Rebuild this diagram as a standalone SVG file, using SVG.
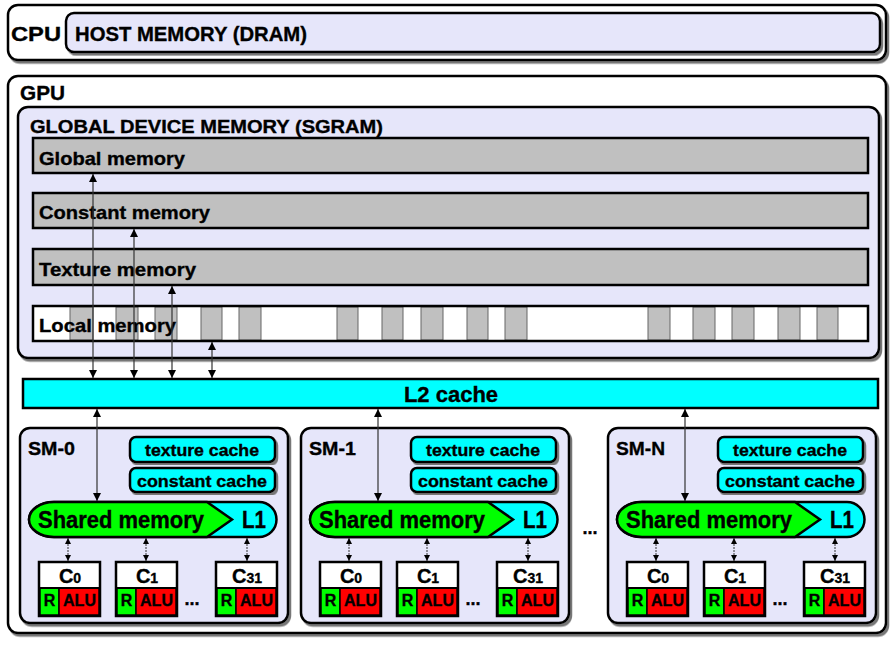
<svg xmlns="http://www.w3.org/2000/svg" width="891" height="645" viewBox="0 0 891 645">
<defs>
<filter id="ds" x="-5%" y="-5%" width="110%" height="115%"><feDropShadow dx="2" dy="2.5" stdDeviation="0.6" flood-color="#777" flood-opacity="1"/></filter>
<marker id="ah" viewBox="0 0 10 10" refX="10" refY="5" markerWidth="8" markerHeight="8" markerUnits="userSpaceOnUse" orient="auto-start-reverse"><path d="M0,0 L10,5 L0,10 Z" fill="#000"/></marker>
<marker id="as" viewBox="0 0 10 10" refX="10" refY="5" markerWidth="6" markerHeight="6" markerUnits="userSpaceOnUse" orient="auto-start-reverse"><path d="M0,0 L10,5 L0,10 Z" fill="#000"/></marker>
<style>
text{font-family:"Liberation Sans",Arial,sans-serif;font-weight:bold;fill:#000;stroke:#000;stroke-width:0.35}
.outer{fill:#fff;stroke:#000;stroke-width:2.5;filter:url(#ds)}
.lav{fill:#e6e6fa;stroke:#000;stroke-width:2.5;filter:url(#ds)}
.bar{fill:#c0c0c0;stroke:#000;stroke-width:2.5}
.cell{fill:#c0c0c0;stroke:#666;stroke-width:1}
.cyan{fill:#00ffff;stroke:#000;stroke-width:2.5}
.cache{fill:#00ffff;stroke:#000;stroke-width:2.5;filter:url(#ds)}
.green{fill:#00ff00;stroke:#000;stroke-width:2.5}
.reg{fill:#00ff00;stroke:#000;stroke-width:1.5}
.alu{fill:#ff0000;stroke:#000;stroke-width:1.5}
.core{fill:#fff;stroke:#000;stroke-width:2.5}
.div{stroke:#000;stroke-width:2}
.conn{stroke:#333;stroke-width:1.2;fill:none;marker-start:url(#ah);marker-end:url(#ah)}
.cconn{stroke:#333;stroke-width:1;stroke-dasharray:2 1;fill:none;marker-start:url(#as);marker-end:url(#as)}
.t19{font-size:19px}
.t20{font-size:20px}
.cache-t{font-size:17px}
.sh-t{font-size:23px}
.c-t{font-size:20px}
.ra{font-size:16px}
</style>
</defs>

<g id="cpu">
<rect class="outer" x="8" y="5" width="878" height="55" rx="10"/>
<text class="t20" x="11" y="41" textLength="50" lengthAdjust="spacingAndGlyphs">CPU</text>
<g id="host-memory">
<rect class="lav" x="66" y="13" width="814" height="39" rx="8"/>
<text class="t20" x="75" y="41" textLength="232" lengthAdjust="spacingAndGlyphs">HOST MEMORY (DRAM)</text>
</g>
</g>

<g id="gpu">
<rect class="outer" x="8" y="76" width="878" height="557" rx="10"/>
<text class="t20" x="20" y="100" textLength="45" lengthAdjust="spacingAndGlyphs">GPU</text>
</g>

<g id="global-device-memory">
<rect class="lav" x="18" y="107" width="861" height="251" rx="10"/>
<text class="t19" x="30" y="133" textLength="353" lengthAdjust="spacingAndGlyphs">GLOBAL DEVICE MEMORY (SGRAM)</text>
</g>

<g id="global-memory">
<rect class="bar" x="33" y="138" width="835" height="35"/>
<text class="t19" x="39" y="165" textLength="146" lengthAdjust="spacingAndGlyphs">Global memory</text>
</g>
<g id="constant-memory">
<rect class="bar" x="33" y="193" width="835" height="35"/>
<text class="t19" x="39" y="219" textLength="171" lengthAdjust="spacingAndGlyphs">Constant memory</text>
</g>
<g id="texture-memory">
<rect class="bar" x="33" y="249" width="835" height="36"/>
<text class="t19" x="39" y="276" textLength="157" lengthAdjust="spacingAndGlyphs">Texture memory</text>
</g>
<g id="local-memory">
<rect x="33" y="306" width="835" height="35" fill="#fff"/>
<rect class="cell" x="70" y="307" width="23" height="33"/>
<rect class="cell" x="116" y="307" width="22" height="33"/>
<rect class="cell" x="155" y="307" width="22" height="33"/>
<rect class="cell" x="201" y="307" width="21" height="33"/>
<rect class="cell" x="239" y="307" width="22" height="33"/>
<rect class="cell" x="337" y="307" width="21" height="33"/>
<rect class="cell" x="382" y="307" width="21" height="33"/>
<rect class="cell" x="421" y="307" width="22" height="33"/>
<rect class="cell" x="467" y="307" width="21" height="33"/>
<rect class="cell" x="505" y="307" width="22" height="33"/>
<rect class="cell" x="648" y="307" width="22" height="33"/>
<rect class="cell" x="693" y="307" width="22" height="33"/>
<rect class="cell" x="732" y="307" width="22" height="33"/>
<rect class="cell" x="778" y="307" width="22" height="33"/>
<rect class="cell" x="817" y="307" width="21" height="33"/>
<rect x="33" y="306" width="835" height="35" fill="none" stroke="#000" stroke-width="2.5"/>
<text class="t19" x="39" y="332" textLength="137" lengthAdjust="spacingAndGlyphs">Local memory</text>
</g>

<g id="l2-cache">
<rect class="cyan" x="23" y="379" width="855" height="29"/>
<text x="451" y="402" font-size="22" text-anchor="middle">L2 cache</text>
</g>

<g id="sm-0">
<rect class="lav" x="20" y="428" width="268" height="195" rx="10"/>
<text class="t19" x="28" y="455" textLength="47" lengthAdjust="spacingAndGlyphs">SM-0</text>
<g id="sm-0-texture-cache"><rect class="cache" x="130" y="437" width="145" height="25" rx="6"/><text class="cache-t" x="202" y="456" text-anchor="middle" textLength="114" lengthAdjust="spacingAndGlyphs">texture cache</text></g>
<g id="sm-0-constant-cache"><rect class="cache" x="130" y="468" width="145" height="24" rx="6"/><text class="cache-t" x="202" y="487" text-anchor="middle" textLength="130" lengthAdjust="spacingAndGlyphs">constant cache</text></g>
<g id="sm-0-shared">
<path class="cyan" d="M54,502 L259,502 A17.5,17.5 0 0 1 259,537 L54,537 A25,17.5 0 0 1 54,502 Z"/>
<path class="green" d="M54,502 L207,502 L232,519.5 L207,537 L54,537 A25,17.5 0 0 1 54,502 Z"/>
<text class="sh-t" x="38" y="528" textLength="166" lengthAdjust="spacingAndGlyphs">Shared memory</text>
<text class="sh-t" x="242" y="528" textLength="24" lengthAdjust="spacingAndGlyphs">L1</text>
</g>
<g id="sm-0-c0"><rect class="core" x="39" y="562" width="61" height="54"/><rect class="reg" x="40" y="588" width="19" height="27"/><rect class="alu" x="59" y="588" width="40" height="27"/><line class="div" x1="39" y1="588" x2="100" y2="588"/><text class="c-t" x="70" y="583" text-anchor="middle">C<tspan font-size="14">0</tspan></text><text class="ra" x="49.5" y="606" text-anchor="middle">R</text><text class="ra" x="79.5" y="606" text-anchor="middle">ALU</text></g>
<g id="sm-0-c1"><rect class="core" x="116" y="562" width="61" height="54"/><rect class="reg" x="117" y="588" width="19" height="27"/><rect class="alu" x="136" y="588" width="40" height="27"/><line class="div" x1="116" y1="588" x2="177" y2="588"/><text class="c-t" x="147" y="583" text-anchor="middle">C<tspan font-size="14">1</tspan></text><text class="ra" x="126.5" y="606" text-anchor="middle">R</text><text class="ra" x="156.5" y="606" text-anchor="middle">ALU</text></g>
<text x="192" y="605" font-size="18" text-anchor="middle">...</text>
<g id="sm-0-c31"><rect class="core" x="216" y="562" width="61" height="54"/><rect class="reg" x="217" y="588" width="19" height="27"/><rect class="alu" x="236" y="588" width="40" height="27"/><line class="div" x1="216" y1="588" x2="277" y2="588"/><text class="c-t" x="247" y="583" text-anchor="middle">C<tspan font-size="14">31</tspan></text><text class="ra" x="226.5" y="606" text-anchor="middle">R</text><text class="ra" x="256.5" y="606" text-anchor="middle">ALU</text></g>
</g>

<g id="sm-1" transform="translate(281,0)">
<rect class="lav" x="20" y="428" width="268" height="195" rx="10"/>
<text class="t19" x="28" y="455" textLength="47" lengthAdjust="spacingAndGlyphs">SM-1</text>
<g><rect class="cache" x="130" y="437" width="145" height="25" rx="6"/><text class="cache-t" x="202" y="456" text-anchor="middle" textLength="114" lengthAdjust="spacingAndGlyphs">texture cache</text></g>
<g><rect class="cache" x="130" y="468" width="145" height="24" rx="6"/><text class="cache-t" x="202" y="487" text-anchor="middle" textLength="130" lengthAdjust="spacingAndGlyphs">constant cache</text></g>
<g>
<path class="cyan" d="M54,502 L259,502 A17.5,17.5 0 0 1 259,537 L54,537 A25,17.5 0 0 1 54,502 Z"/>
<path class="green" d="M54,502 L207,502 L232,519.5 L207,537 L54,537 A25,17.5 0 0 1 54,502 Z"/>
<text class="sh-t" x="38" y="528" textLength="166" lengthAdjust="spacingAndGlyphs">Shared memory</text>
<text class="sh-t" x="242" y="528" textLength="24" lengthAdjust="spacingAndGlyphs">L1</text>
</g>
<g><rect class="core" x="39" y="562" width="61" height="54"/><rect class="reg" x="40" y="588" width="19" height="27"/><rect class="alu" x="59" y="588" width="40" height="27"/><line class="div" x1="39" y1="588" x2="100" y2="588"/><text class="c-t" x="70" y="583" text-anchor="middle">C<tspan font-size="14">0</tspan></text><text class="ra" x="49.5" y="606" text-anchor="middle">R</text><text class="ra" x="79.5" y="606" text-anchor="middle">ALU</text></g>
<g><rect class="core" x="116" y="562" width="61" height="54"/><rect class="reg" x="117" y="588" width="19" height="27"/><rect class="alu" x="136" y="588" width="40" height="27"/><line class="div" x1="116" y1="588" x2="177" y2="588"/><text class="c-t" x="147" y="583" text-anchor="middle">C<tspan font-size="14">1</tspan></text><text class="ra" x="126.5" y="606" text-anchor="middle">R</text><text class="ra" x="156.5" y="606" text-anchor="middle">ALU</text></g>
<text x="192" y="605" font-size="18" text-anchor="middle">...</text>
<g><rect class="core" x="216" y="562" width="61" height="54"/><rect class="reg" x="217" y="588" width="19" height="27"/><rect class="alu" x="236" y="588" width="40" height="27"/><line class="div" x1="216" y1="588" x2="277" y2="588"/><text class="c-t" x="247" y="583" text-anchor="middle">C<tspan font-size="14">31</tspan></text><text class="ra" x="226.5" y="606" text-anchor="middle">R</text><text class="ra" x="256.5" y="606" text-anchor="middle">ALU</text></g>
</g>

<text x="590" y="534" font-size="18" text-anchor="middle">...</text>

<g id="sm-n" transform="translate(588,0)">
<rect class="lav" x="20" y="428" width="268" height="195" rx="10"/>
<text class="t19" x="28" y="455" textLength="49" lengthAdjust="spacingAndGlyphs">SM-N</text>
<g><rect class="cache" x="130" y="437" width="145" height="25" rx="6"/><text class="cache-t" x="202" y="456" text-anchor="middle" textLength="114" lengthAdjust="spacingAndGlyphs">texture cache</text></g>
<g><rect class="cache" x="130" y="468" width="145" height="24" rx="6"/><text class="cache-t" x="202" y="487" text-anchor="middle" textLength="130" lengthAdjust="spacingAndGlyphs">constant cache</text></g>
<g>
<path class="cyan" d="M54,502 L259,502 A17.5,17.5 0 0 1 259,537 L54,537 A25,17.5 0 0 1 54,502 Z"/>
<path class="green" d="M54,502 L207,502 L232,519.5 L207,537 L54,537 A25,17.5 0 0 1 54,502 Z"/>
<text class="sh-t" x="38" y="528" textLength="166" lengthAdjust="spacingAndGlyphs">Shared memory</text>
<text class="sh-t" x="242" y="528" textLength="24" lengthAdjust="spacingAndGlyphs">L1</text>
</g>
<g><rect class="core" x="39" y="562" width="61" height="54"/><rect class="reg" x="40" y="588" width="19" height="27"/><rect class="alu" x="59" y="588" width="40" height="27"/><line class="div" x1="39" y1="588" x2="100" y2="588"/><text class="c-t" x="70" y="583" text-anchor="middle">C<tspan font-size="14">0</tspan></text><text class="ra" x="49.5" y="606" text-anchor="middle">R</text><text class="ra" x="79.5" y="606" text-anchor="middle">ALU</text></g>
<g><rect class="core" x="116" y="562" width="61" height="54"/><rect class="reg" x="117" y="588" width="19" height="27"/><rect class="alu" x="136" y="588" width="40" height="27"/><line class="div" x1="116" y1="588" x2="177" y2="588"/><text class="c-t" x="147" y="583" text-anchor="middle">C<tspan font-size="14">1</tspan></text><text class="ra" x="126.5" y="606" text-anchor="middle">R</text><text class="ra" x="156.5" y="606" text-anchor="middle">ALU</text></g>
<text x="192" y="605" font-size="18" text-anchor="middle">...</text>
<g><rect class="core" x="216" y="562" width="61" height="54"/><rect class="reg" x="217" y="588" width="19" height="27"/><rect class="alu" x="236" y="588" width="40" height="27"/><line class="div" x1="216" y1="588" x2="277" y2="588"/><text class="c-t" x="247" y="583" text-anchor="middle">C<tspan font-size="14">31</tspan></text><text class="ra" x="226.5" y="606" text-anchor="middle">R</text><text class="ra" x="256.5" y="606" text-anchor="middle">ALU</text></g>
</g>

<g id="connectors">
<line class="conn" x1="93" y1="378" x2="93" y2="174"/>
<line class="conn" x1="134" y1="378" x2="134" y2="229"/>
<line class="conn" x1="172" y1="378" x2="172" y2="286"/>
<line class="conn" x1="212" y1="378" x2="212" y2="342"/>
<line class="conn" x1="97" y1="409" x2="97" y2="501"/>
<line class="conn" x1="378" y1="409" x2="378" y2="501"/>
<line class="conn" x1="685" y1="409" x2="685" y2="501"/>
<line class="cconn" x1="68" y1="538" x2="68" y2="561"/>
<line class="cconn" x1="146" y1="538" x2="146" y2="561"/>
<line class="cconn" x1="247" y1="538" x2="247" y2="561"/>
<line class="cconn" x1="349" y1="538" x2="349" y2="561"/>
<line class="cconn" x1="427" y1="538" x2="427" y2="561"/>
<line class="cconn" x1="528" y1="538" x2="528" y2="561"/>
<line class="cconn" x1="656" y1="538" x2="656" y2="561"/>
<line class="cconn" x1="734" y1="538" x2="734" y2="561"/>
<line class="cconn" x1="835" y1="538" x2="835" y2="561"/>
</g>
</svg>
